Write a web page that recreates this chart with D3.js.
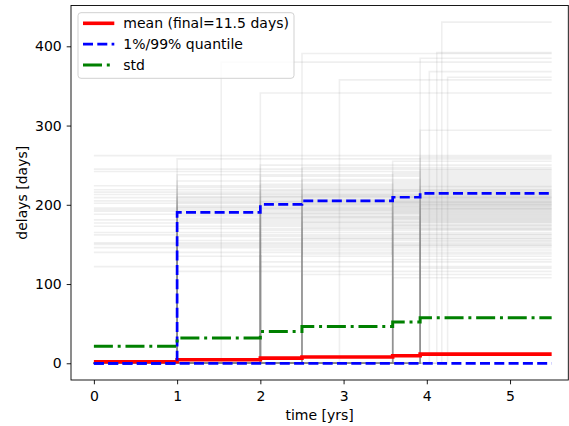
<!DOCTYPE html>
<html>
<head>
<meta charset="utf-8">
<script src="https://cdn.jsdelivr.net/npm/d3@7"></script>
<style>
  body { margin: 0; background: #fff; }
  text { font-family: 'DejaVu Sans', sans-serif; fill: #000; }
</style>
</head>
<body>
<div id="chart-area"></div>
<script>
// summary statistics (step functions)
const stepTimes = [0, 1, 2, 2.5, 3.59, 3.92]
const endTime = 5.5
const meanVals = [2, 4.5, 6.5, 8, 9.5, 11.5]
const q01Vals = [0, 0, 0, 0, 0, 0]
const q99Vals = [0, 190.5, 200.5, 205, 209.5, 214.5]
const stdVals = [21.5, 32, 40, 46.5, 52, 57.5]

// individual delayed samples: jump time -> final delay
const levelsAt0 = [262, 245, 242, 224, 219, 216, 213, 209, 205, 202, 196, 194, 192, 188, 181, 177, 173, 165, 162, 152, 150, 146, 140, 122]
const levelsAt1 = [258, 238, 230, 222, 214, 210, 207, 203, 199, 197, 190, 186, 183, 179, 170, 160, 155, 148, 135, 116]
const levelsAt2 = [341, 250, 236, 226, 218, 211, 204, 200, 195, 189, 184, 175, 168, 157, 143, 128]
const levelsAt25 = [391, 247, 232, 220, 212, 206, 201, 193, 185, 178, 171, 158, 138, 112]
const levelsAt359 = [255, 240, 228, 217, 209, 203, 198, 191, 182, 174, 163, 149, 131, 108]
const levelsAt392 = [385, 294, 260, 244, 234, 223, 215, 208, 200, 195, 187, 180, 169, 154, 120]
const outlierTimes = [1.53, 2.95, 4.03, 4.12, 4.18, 4.25]
const outlierLevels = [380, 357.7, 368, 392, 430.5, 361]

const xTicks = [0, 1, 2, 3, 4, 5]
const yTicks = [0, 100, 200, 300, 400]

const legendLabels = ['mean (final=11.5 days)', '1%/99% quantile', 'std']

const fontSize = '14px'

const margin = { top: 5.5, left: 71, right: 0.7, bottom: 46 }
const canvasWidth = 569 - margin.left - margin.right
const canvasHeight = 426 - margin.top - margin.bottom

const svg = d3.select('#chart-area')
  .append('svg')
    .attr('width', 569)
    .attr('height', 426)

const g = svg.append('g')
  .attr('transform', `translate(${margin.left}, ${margin.top})`)

const scaleX = d3.scaleLinear()
  .domain([-0.275, 5.7])
  .range([0, canvasWidth])

const scaleY = d3.scaleLinear()
  .domain([-21.1, 451.5])
  .range([canvasHeight, 0])

const stepLine = d3.line()
  .x(d => scaleX(d[0]))
  .y(d => scaleY(d[1]))
  .curve(d3.curveStepAfter)

// build sample paths
const samples = []
levelsAt0.forEach(v => samples.push([[0, v], [endTime, v]]))
const jumpGroups = [[1, levelsAt1], [2, levelsAt2], [2.5, levelsAt25], [3.59, levelsAt359], [3.92, levelsAt392]]
jumpGroups.forEach(([t, levels]) => {
  levels.forEach(v => samples.push([[0, 0], [t, v], [endTime, v]]))
})
outlierTimes.forEach((t, i) => {
  samples.push([[0, 0], [t, outlierLevels[i]], [endTime, outlierLevels[i]]])
})

svg.append('clipPath').attr('id', 'clip')
  .append('rect').attr('width', canvasWidth).attr('height', canvasHeight)

const plot = g.append('g').attr('clip-path', 'url(#clip)')

plot.selectAll('.sample').data(samples).enter()
  .append('path')
    .attr('class', 'sample')
    .attr('d', stepLine)
    .attr('fill', 'none')
    .attr('stroke', 'grey')
    .attr('stroke-opacity', 0.13)
    .attr('stroke-width', 1.6)

const toSteps = vals => vals.map((v, i) => [stepTimes[i], v]).concat([[endTime, vals[vals.length - 1]]])

const series = [
  { vals: meanVals, color: 'red', width: 3.6, dash: null },
  { vals: q01Vals, color: 'blue', width: 2.7, dash: '10,4.3' },
  { vals: q99Vals, color: 'blue', width: 2.7, dash: '10,4.3' },
  { vals: stdVals, color: 'green', width: 3, dash: '19,4.8,3,4.8' }
]

series.forEach(s => {
  plot.append('path')
    .attr('d', stepLine(toSteps(s.vals)))
    .attr('fill', 'none')
    .attr('stroke', s.color)
    .attr('stroke-width', s.width)
    .attr('stroke-dasharray', s.dash)
})

// axes
const xAxisCall = d3.axisBottom(scaleX)
  .tickValues(xTicks)
  .tickSize(4.3)
  .tickPadding(6.5)
  .tickFormat(d3.format('d'))
const xAxis = g.append('g')
  .attr('transform', `translate(0, ${canvasHeight})`)
  .call(xAxisCall)

const yAxisCall = d3.axisLeft(scaleY)
  .tickValues(yTicks)
  .tickSize(4.3)
  .tickPadding(5)
  .tickFormat(d3.format('d'))
const yAxis = g.append('g')
  .call(yAxisCall)

;[xAxis, yAxis].forEach(a => {
  a.select('.domain').remove()
  a.selectAll('text').style('font-size', fontSize).style('font-family', "'DejaVu Sans', sans-serif")
  a.selectAll('line').attr('stroke', '#000').attr('stroke-width', 0.9)
})

g.append('rect')
  .attr('width', canvasWidth)
  .attr('height', canvasHeight)
  .attr('fill', 'none')
  .attr('stroke', '#000')
  .attr('stroke-width', 0.9)

g.append('text')
  .attr('x', canvasWidth / 2)
  .attr('y', canvasHeight + 40)
  .attr('text-anchor', 'middle')
  .style('font-size', fontSize)
  .text('time [yrs]')

g.append('text')
  .attr('x', -canvasHeight / 2)
  .attr('y', -44)
  .attr('transform', 'rotate(-90)')
  .attr('text-anchor', 'middle')
  .style('font-size', fontSize)
  .text('delays [days]')

// legend
const legend = g.append('g').attr('transform', `translate(${78 - margin.left}, ${12.7 - margin.top})`)
legend.append('rect')
  .attr('width', 216)
  .attr('height', 65.6)
  .attr('rx', 3)
  .attr('fill', 'white')
  .attr('fill-opacity', 0.8)
  .attr('stroke', '#ccc')
  .attr('stroke-width', 0.9)

const legendStyles = [series[0], series[1], series[3]]
legendStyles.forEach((s, i) => {
  const y = 10.6 + i * 20.8
  legend.append('line')
    .attr('x1', 5).attr('x2', 36.3)
    .attr('y1', y).attr('y2', y)
    .attr('stroke', s.color)
    .attr('stroke-width', s.width)
    .attr('stroke-dasharray', s.dash)
  legend.append('text')
    .attr('x', 45.3)
    .attr('y', y + 5)
    .style('font-size', fontSize)
    .text(legendLabels[i])
})
</script>
</body>
</html>
